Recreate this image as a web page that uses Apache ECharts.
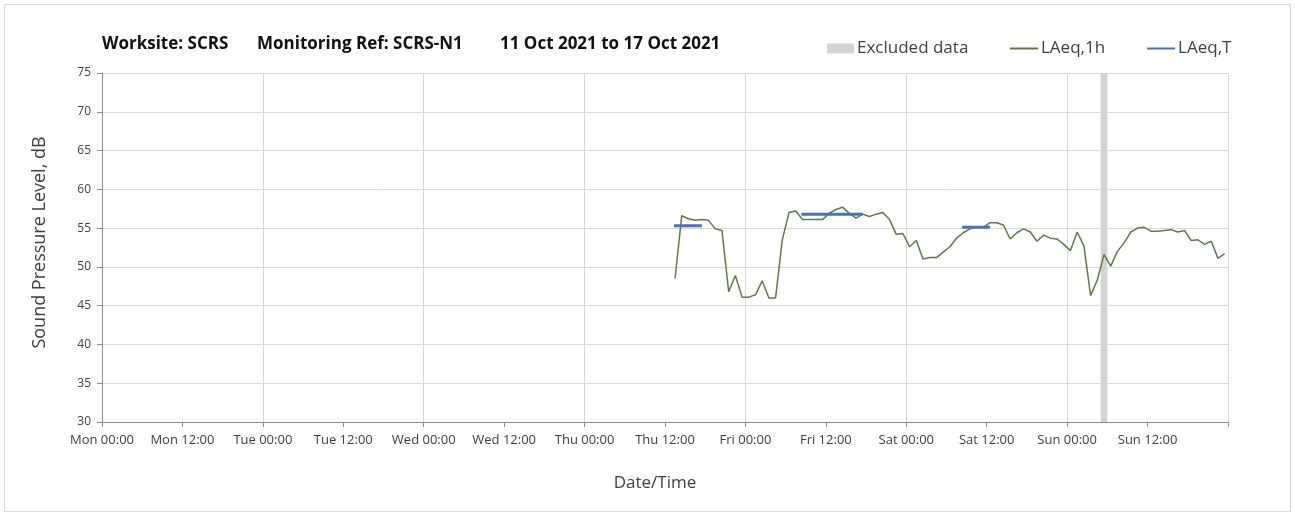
<!DOCTYPE html>
<html lang="en">
<head>
    <meta charset="UTF-8">
    <title>SCRS-N1</title>
	<style>
	body { margin: 0; background: #fff; }
	#frame
	{
		position: absolute; left: 4px; top: 4px; width: 1285px; height: 506px;
		border: solid 1px #d9d9d9;
	}
	#chart1 { position: absolute; left: 0; top: 0; width: 1295px; height: 516px; }
	</style>
</head>
<body>
	<div id="frame"></div>
	<div id="chart1"></div>
	<script src="https://cdn.jsdelivr.net/npm/echarts@6/dist/echarts.min.js"></script>
	<script>
	// hours from Mon 11 Oct 2021 00:00
	var dayNames = ['Mon', 'Tue', 'Wed', 'Thu', 'Fri', 'Sat', 'Sun'];
	var firstHour = 85.5;   // Thu 13:30, hourly after that
	var laeq1h = [
		48.5, 56.6, 56.2, 56.0, 56.1, 56.0, 54.9, 54.7, 46.8, 48.9,
		46.1, 46.1, 46.4, 48.2, 46.0, 46.0, 53.5, 57.0, 57.2, 56.1,
		56.1, 56.1, 56.1, 56.9, 57.4, 57.7, 56.9, 56.3, 56.8, 56.5,
		56.8, 57.0, 56.1, 54.2, 54.3, 52.6, 53.4, 51.0, 51.2, 51.2,
		51.9, 52.6, 53.7, 54.4, 54.9, 55.1, 55.1, 55.7, 55.7, 55.4,
		53.6, 54.4, 54.9, 54.5, 53.3, 54.1, 53.7, 53.6, 52.9, 52.1,
		54.5, 52.7, 46.3, 48.3, 51.6, 50.1, 52.0, 53.1, 54.5, 55.0,
		55.1, 54.6, 54.6, 54.7, 54.8, 54.5, 54.7, 53.4, 53.5, 52.9,
		53.3, 51.1, 51.7
	];
	// LAeq,T periods
	var ltStart = [85.33, 104.33, 128.33];
	var ltEnd = [89.5, 113.5, 132.5];
	var ltValue = [55.3, 56.8, 55.1];
	// excluded data
	var exStart = [149];
	var exEnd = [150];
	var titleParts = ['Worksite: SCRS', 'Monitoring Ref: SCRS-N1', '11 Oct 2021 to 17 Oct 2021'];
	var titleLeft = [102, 257, 500];

	var lineData = laeq1h.map(function (v, i) { return [firstHour + i, v]; });
	var font = '"Open Sans", Lato, sans-serif';
	var grey = '#404040';

	var series = [
		{
			name: 'Excluded data',
			type: 'line',
			data: [],
			itemStyle: { color: '#d4d4d4' },
			markArea: {
				silent: true,
				itemStyle: { color: '#d4d4d4' },
				data: exStart.map(function (s, i) { return [{ xAxis: s }, { xAxis: exEnd[i] }]; })
			}
		},
		{
			name: 'LAeq,1h',
			type: 'line',
			data: lineData,
			showSymbol: false,
			lineStyle: { color: '#5b7f3e', width: 1.5 },
			itemStyle: { color: '#5b7f3e' },
			z: 3
		}
	];
	for (var i = 0; i < ltValue.length; i++)
	{
		series.push({
			name: 'LAeq,T',
			type: 'line',
			data: [[ltStart[i], ltValue[i]], [ltEnd[i], ltValue[i]]],
			showSymbol: false,
			lineStyle: { color: '#4472c4', width: 3 },
			itemStyle: { color: '#4472c4' },
			z: 4
		});
	}

	var myChart = echarts.init(document.getElementById('chart1'));
	myChart.setOption({
		animation: false,
		textStyle: { fontFamily: font },
		title: titleParts.map(function (t, i) {
			return {
				text: t, left: titleLeft[i], top: 36, padding: 0,
				textStyle: { fontFamily: font, fontSize: 17, fontWeight: 'bold', color: '#111' }
			};
		}),
		legend: [
			{
				left: 827, top: 40, padding: 0,
				data: ['Excluded data'],
				icon: 'rect', itemWidth: 27, itemHeight: 10, itemGap: 4,
				textStyle: { fontFamily: font, fontSize: 17, color: grey, padding: [0, 0, 0, -2] }
			},
			{
				left: 1010, top: 40, padding: 0,
				data: ['LAeq,1h', 'LAeq,T'],
				icon: 'rect', itemWidth: 28, itemHeight: 2, itemGap: 42,
				textStyle: { fontFamily: font, fontSize: 17, color: grey, padding: [0, 0, 0, -2] }
			}
		],
		grid: { left: 102, right: 67, top: 73, bottom: 94 },
		xAxis: [
			{
				type: 'value', min: 0, max: 168, interval: 12,
				name: 'Date/Time', nameLocation: 'middle', nameGap: 53,
				nameTextStyle: { fontFamily: font, fontSize: 17, color: grey, padding: [0, 20, 0, 0] },
				axisLine: { lineStyle: { color: '#8c8c8c' } },
				axisTick: { length: 5, lineStyle: { color: '#8c8c8c' } },
				axisLabel: {
					margin: 12, fontSize: 13, color: grey,
					formatter: function (v) {
						if (v >= 168) return '';
						return dayNames[Math.floor(v / 24)] + ' ' + (v % 24 === 0 ? '00:00' : '12:00');
					}
				},
				splitLine: { show: false }
			},
			{
				type: 'value', min: 0, max: 168, interval: 24, position: 'bottom',
				axisLine: { show: false }, axisTick: { show: false }, axisLabel: { show: false },
				splitLine: { show: true, lineStyle: { color: '#d9d9d9' } }
			}
		],
		yAxis: {
			type: 'value', min: 30, max: 75, interval: 5,
			name: 'Sound Pressure Level, dB', nameLocation: 'middle', nameGap: 53,
			nameTextStyle: { fontFamily: font, fontSize: 18, color: grey, padding: [0, 0, 0, 10] },
			axisLine: { show: true, lineStyle: { color: '#8c8c8c' } },
			axisTick: { show: true, length: 5, lineStyle: { color: '#8c8c8c' } },
			axisLabel: { margin: 11, fontSize: 12, color: grey },
			splitLine: { lineStyle: { color: '#d9d9d9' } }
		},
		series: series
	});
	</script>
</body>
</html>
